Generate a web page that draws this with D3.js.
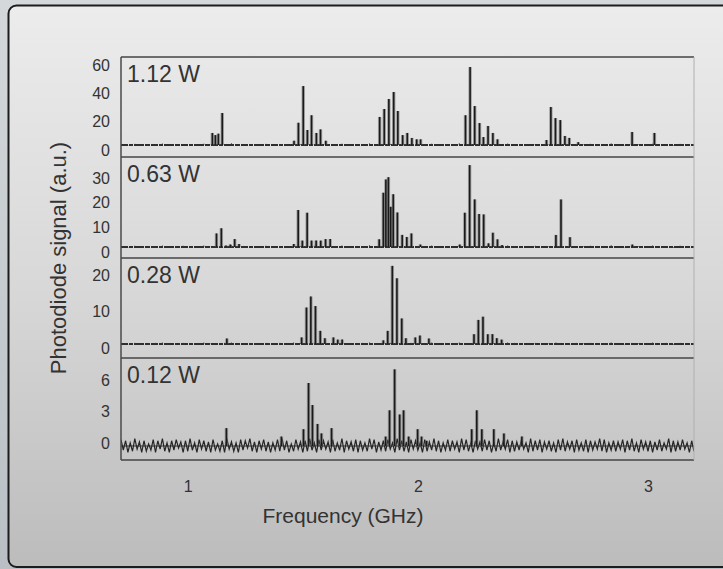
<!DOCTYPE html>
<html>
<head>
<meta charset="utf-8">
<script src="https://cdn.jsdelivr.net/npm/d3@7"></script>
<style>
  html, body { margin: 0; padding: 0; }
  body { width: 723px; height: 569px; overflow: hidden; background: linear-gradient(#d4d8db, #b9bfc4); }
  svg { display: block; overflow: hidden; }
  text { font-family: "Liberation Sans", Arial, sans-serif; fill: #333; }
</style>
</head>
<body>
<svg id="chart" width="723" height="569"></svg>
<script>
// frequency axis
const freqTicks = [1, 2, 3];
const freqDomain = [0.71, 3.2];

// panel labels (pump power)
const panelLabels = ["1.12 W", "0.63 W", "0.28 W", "0.12 W"];

// y tick values per panel
const yTicks112 = [0, 20, 40, 60];
const yTicks063 = [0, 10, 20, 30];
const yTicks028 = [0, 10, 20];
const yTicks012 = [0, 3, 6];

// peaks: [frequency GHz, signal a.u.]
const peaks112 = [
  [1.107, 8.5], [1.120, 7], [1.133, 8], [1.150, 22.6],
  [1.462, 3], [1.481, 15.7], [1.502, 41.6], [1.520, 10.6], [1.538, 21], [1.559, 8.5], [1.577, 11], [1.600, 3],
  [1.834, 19.8], [1.854, 25.4], [1.874, 32.5], [1.895, 37.4], [1.913, 24], [1.934, 7], [1.954, 8.5], [1.974, 5], [1.995, 4], [2.012, 4],
  [2.207, 21], [2.227, 55], [2.247, 27.5], [2.268, 15.5], [2.285, 5.6], [2.305, 13.4], [2.326, 8.5], [2.346, 4],
  [2.559, 3.5], [2.578, 26.8], [2.598, 19], [2.619, 17.6], [2.639, 6.4], [2.658, 5], [2.697, 2],
  [2.931, 9.2], [3.028, 8.5]
];
const peaks063 = [
  [1.125, 5.5], [1.146, 7.6], [1.166, 0.6], [1.185, 1], [1.204, 3.2], [1.223, 1.2],
  [1.461, 1.2], [1.480, 15], [1.498, 2.6], [1.519, 13.9], [1.538, 2.6], [1.558, 2.6], [1.578, 2.6], [1.599, 3.2], [1.619, 3.2],
  [1.832, 3.1], [1.850, 22], [1.861, 27.4], [1.872, 28.3], [1.882, 16.3], [1.893, 21.4], [1.911, 14], [1.932, 4.9], [1.952, 4.1], [1.972, 5.5], [2.011, 1],
  [2.182, 1], [2.204, 13.9], [2.225, 33.2], [2.247, 19.3], [2.266, 13.4], [2.286, 13.2], [2.307, 1.5], [2.326, 5.8], [2.346, 3.1], [2.366, 0.8],
  [2.600, 4.9], [2.622, 19.3], [2.661, 4], [2.932, 1]
];
const peaks028 = [
  [1.170, 1.5],
  [1.495, 1.8], [1.516, 10], [1.535, 13], [1.555, 10.4], [1.576, 3.6], [1.596, 1.6], [1.633, 1.8], [1.652, 1.2], [1.671, 1.2],
  [1.850, 1], [1.869, 3.6], [1.889, 21.4], [1.909, 18], [1.930, 7], [1.948, 1.6], [1.989, 1.8], [2.009, 2.3], [2.048, 1.5],
  [2.244, 2.7], [2.263, 6.6], [2.283, 7.5], [2.304, 2.7], [2.324, 2.7], [2.343, 1.6], [2.364, 1.2]
];
const peaks012 = [
  [1.168, 1.7], [1.407, 0.9], [1.503, 1.6], [1.525, 6.0], [1.542, 3.9], [1.564, 2.1], [1.581, 1.2], [1.625, 1.7],
  [1.860, 0.9], [1.877, 3.4], [1.899, 7.3], [1.921, 3.0], [1.938, 3.4], [1.960, 0.9], [1.999, 1.6], [2.016, 0.9], [2.038, 0.5],
  [2.234, 1.6], [2.256, 3.4], [2.278, 1.6], [2.330, 1.6], [2.374, 1.2], [2.452, 0.9]
];

// baseline noise in tenths of a.u., sampled from 0.71 GHz upward
const noiseStep112 = 0.03;
const noise112 = [
  5,-3,8,2,-4,6,10,-2,3,7,-5,4,9,1,-3,6,12,-2,5,3,
  -4,8,2,6,-3,10,4,-2,7,1,5,-4,9,3,-2,6,11,-3,4,8,
  2,-5,7,5,-2,9,3,6,-4,12,1,5,-3,8,4,-2,10,6,-3,2,
  7,-4,5,9,1,-2,6,3,8,-5,4,11,2,-3,7,5,-2,9,3,6,
  -4,8,2,5
];
const noiseStep063 = 0.03;
const noise063 = [
  3,-2,5,1,-3,4,6,-1,2,5,-3,3,6,1,-2,4,7,-1,3,2,
  -3,5,1,4,-2,6,3,-1,5,1,3,-3,6,2,-1,4,7,-2,3,5,
  1,-3,5,3,-1,6,2,4,-3,7,1,3,-2,5,3,-1,6,4,-2,1,
  5,-3,3,6,1,-1,4,2,5,-3,3,7,1,-2,5,3,-1,6,2,4,
  -3,5,1,3
];
const noiseStep028 = 0.03;
const noise028 = [
  2,-1,3,1,-2,3,4,-1,1,3,-2,2,4,1,-1,3,4,-1,2,1,
  -2,3,1,3,-1,4,2,-1,3,1,2,-2,4,1,-1,3,4,-1,2,3,
  1,-2,3,2,-1,4,1,3,-2,4,1,2,-1,3,2,-1,4,3,-1,1,
  3,-2,2,4,1,-1,3,1,3,-2,2,4,1,-1,3,2,-1,4,1,3,
  -2,3,1,2
];
const noiseStep012 = 0.01;
const noise012 = [
  6,-4,5,-6,3,-5,7,-3,4,-6,5,-5,2,-4,6,-6,5,-3,7,-5,
  3,-6,5,-4,6,-2,4,-6,5,-5,7,-4,3,-6,6,-3,5,-5,4,-6,
  6,-4,2,-5,5,-6,7,-3,4,-5,3,-6,6,-4,5,-2,7,-5,4,-6,
  5,-3,6,-5,4,-6,3,-4,6,-5,7,-4,5,-6,2,-5,6,-3,4,-6,
  5,-5,7,-4,3,-6,6,-4,5,-3,4,-6,6,-5,3,-4,7,-6,5,-3,
  4,-5,6,-6,5,-4,3,-5,7,-3,6,-6,4,-4,5,-5,6,-3,3,-6,
  7,-4,5,-5,4,-6,6,-3,5,-4,3,-6,6,-5,4,-4,7,-5,5,-6,
  3,-4,6,-5,5,-3,4,-6,7,-4,6,-5,3,-6,5,-3,4,-5,6,-4,
  5,-6,3,-5,7,-4,4,-3,6,-6,5,-5,4,-4,6,-3,3,-6,7,-5,
  5,-4,6,-6,4,-3,5,-5,3,-6,6,-4,7,-5,4,-3,5,-6,6,-4,
  3,-5,6,-6,5,-4,4,-3,7,-5,6,-6,3,-4,5,-5,4,-3,6,-6,
  5,-4,7,-5,3,-6,6,-3,4,-5,5,-6,4,-4,6,-5,3,-3,7,-6,
  5,-5,4,-4,6,-3,3,-6,5,-5
];

// layout
const plotLeft = 121, plotRight = 694;
const panels = [
  { label: panelLabels[0], peaks: peaks112, noise: noise112, step: noiseStep112, ticks: yTicks112, top: 57,  zero: 145, tickTop: 60,  shift: 5 },
  { label: panelLabels[1], peaks: peaks063, noise: noise063, step: noiseStep063, ticks: yTicks063, top: 157, zero: 247, tickTop: 173, shift: 5 },
  { label: panelLabels[2], peaks: peaks028, noise: noise028, step: noiseStep028, ticks: yTicks028, top: 258, zero: 344, tickTop: 271, shift: 4 },
  { label: panelLabels[3], peaks: peaks012, noise: noise012, step: noiseStep012, ticks: yTicks012, top: 358, zero: 446, tickTop: 383, shift: -3 }
];

const svg = d3.select("#chart");
const defs = svg.append("defs");

let grad = defs.append("linearGradient")
  .attr("id", "boxGrad").attr("x1", 0).attr("y1", 0).attr("x2", 0).attr("y2", 1);
grad.append("stop").attr("offset", "0%").attr("stop-color", "#ececec");
grad.append("stop").attr("offset", "50%").attr("stop-color", "#d8d8d8");
grad.append("stop").attr("offset", "100%").attr("stop-color", "#bcbcbc");

// outer rounded box, runs off the right edge
svg.append("rect")
  .attr("x", 8.5).attr("y", 5.5)
  .attr("width", 820).attr("height", 561.5)
  .attr("rx", 8).attr("ry", 8)
  .attr("fill", "url(#boxGrad)")
  .attr("stroke", "#1c1c1c")
  .attr("stroke-width", 2);

defs.append("clipPath").attr("id", "plotClip")
  .append("rect")
  .attr("x", plotLeft).attr("y", 57)
  .attr("width", plotRight - plotLeft).attr("height", 403);

let x = d3.scaleLinear().domain(freqDomain).range([plotLeft, plotRight]);

panels.forEach((p, k) => {
  let maxTick = p.ticks[p.ticks.length - 1];
  let y = d3.scaleLinear().domain([0, maxTick]).range([p.zero, p.tickTop]);
  let pts = p.noise.map((v, i) => [freqDomain[0] + i * p.step, v / 10]);

  let g = svg.append("g").attr("clip-path", "url(#plotClip)");

  if (k < 3) {
    // thick, slightly broken baseline with tiny noise ticks
    g.append("line")
      .attr("x1", plotLeft).attr("x2", plotRight)
      .attr("y1", y(0)).attr("y2", y(0))
      .attr("stroke", "#2e2e2e")
      .attr("stroke-width", 2)
      .attr("stroke-dasharray", "7,1,4,1,10,1,5,1");
    g.selectAll(".noise" + k)
      .data(pts)
      .join("line")
      .attr("x1", d => x(d[0])).attr("x2", d => x(d[0]))
      .attr("y1", y(0)).attr("y2", d => y(d[1]))
      .attr("stroke", "#333")
      .attr("stroke-width", 1);
  } else {
    // noisy trace for the weakest pump
    g.append("line")
      .attr("x1", plotLeft).attr("x2", plotRight)
      .attr("y1", y(0)).attr("y2", y(0))
      .attr("stroke", "#333")
      .attr("stroke-width", 1.2);
    let line = d3.line()
      .x(d => x(d[0]))
      .y(d => y(d[1]));
    g.append("path")
      .attr("fill", "none")
      .attr("stroke", "#262626")
      .attr("stroke-width", 1.2)
      .attr("d", line(pts));
  }

  // peaks: soft halo then dark core
  g.selectAll(".halo" + k)
    .data(p.peaks)
    .join("line")
    .attr("x1", d => x(d[0])).attr("x2", d => x(d[0]))
    .attr("y1", y(0)).attr("y2", d => y(d[1]))
    .attr("stroke", "#6a6a6a")
    .attr("stroke-opacity", 0.55)
    .attr("stroke-width", 3.4);
  g.selectAll(".peak" + k)
    .data(p.peaks)
    .join("line")
    .attr("x1", d => x(d[0])).attr("x2", d => x(d[0]))
    .attr("y1", y(0)).attr("y2", d => y(d[1]))
    .attr("stroke", "#1a1a1a")
    .attr("stroke-width", 1.6);

  // y tick labels
  let yAxis = d3.axisLeft(y).tickValues(p.ticks).tickSize(0).tickPadding(11).tickFormat(d3.format("d"));
  let ag = svg.append("g")
    .attr("transform", `translate(${plotLeft}, 0)`)
    .call(yAxis);
  ag.select(".domain").remove();
  ag.selectAll("text")
    .attr("transform", `translate(0, ${p.shift})`)
    .style("font-size", "16px")
    .style("font-family", "'Liberation Sans', Arial, sans-serif")
    .attr("fill", "#333");

  // panel label
  svg.append("text")
    .attr("x", 127)
    .attr("y", p.top + 25)
    .style("font-size", "23px")
    .text(p.label);
});

// frame lines
let hLines = [57, 157, 258, 358, 460];
svg.selectAll(".hline")
  .data(hLines)
  .join("line")
  .attr("x1", plotLeft).attr("x2", plotRight)
  .attr("y1", d => d).attr("y2", d => d)
  .attr("stroke", "#444")
  .attr("stroke-width", 1.5);
svg.append("line")
  .attr("x1", plotLeft).attr("x2", plotLeft)
  .attr("y1", 57).attr("y2", 460)
  .attr("stroke", "#4a4a4a")
  .attr("stroke-width", 1.5);
svg.append("line")
  .attr("x1", plotRight).attr("x2", plotRight)
  .attr("y1", 57).attr("y2", 460)
  .attr("stroke", "#b0b0b0")
  .attr("stroke-width", 1);

// x axis labels
let xAxis = d3.axisBottom(x).tickValues(freqTicks).tickSize(0).tickPadding(21).tickFormat(d3.format("d"));
let xg = svg.append("g")
  .attr("transform", `translate(0, 460)`)
  .call(xAxis);
xg.select(".domain").remove();
xg.selectAll("text")
  .style("font-size", "16px")
  .style("font-family", "'Liberation Sans', Arial, sans-serif")
  .attr("fill", "#333");

// axis titles
svg.append("text")
  .attr("x", 343)
  .attr("y", 523)
  .attr("text-anchor", "middle")
  .style("font-size", "21px")
  .text("Frequency (GHz)");
svg.append("text")
  .attr("transform", `translate(66, 258) rotate(-90)`)
  .attr("text-anchor", "middle")
  .style("font-size", "22px")
  .text("Photodiode signal (a.u.)");
</script>
</body>
</html>
